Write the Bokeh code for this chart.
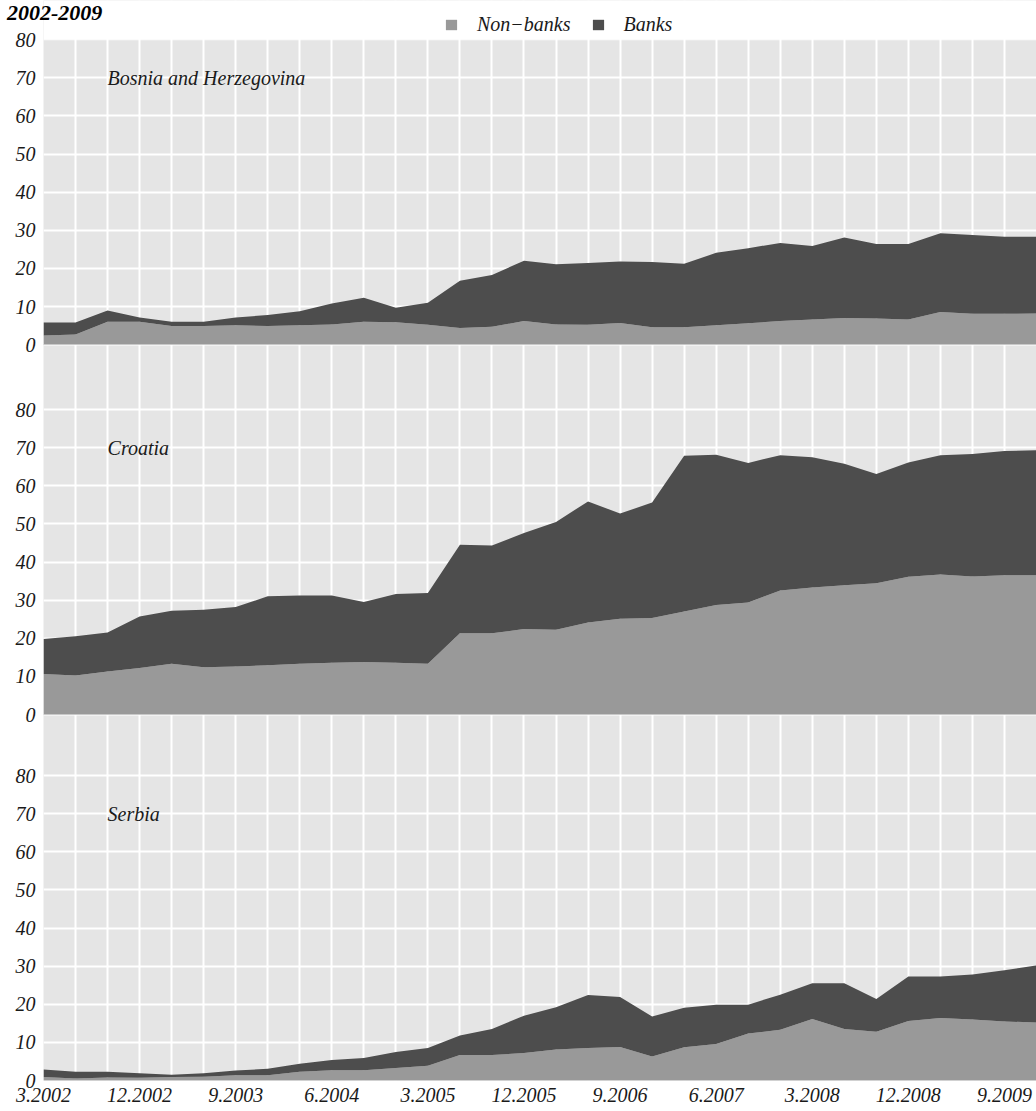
from bokeh.plotting import figure
from bokeh.layouts import column
from bokeh.models import (ColumnDataSource, FixedTicker, Legend, LegendItem, Label,
                          Range1d, Div, BoxAnnotation)
from bokeh.embed import file_html
from bokeh.resources import INLINE

# ---------------- data ----------------
quarters = ["3.2002", "6.2002", "9.2002", "12.2002",
            "3.2003", "6.2003", "9.2003", "12.2003",
            "3.2004", "6.2004", "9.2004", "12.2004",
            "3.2005", "6.2005", "9.2005", "12.2005",
            "3.2006", "6.2006", "9.2006", "12.2006",
            "3.2007", "6.2007", "9.2007", "12.2007",
            "3.2008", "6.2008", "9.2008", "12.2008",
            "3.2009", "6.2009", "9.2009", "12.2009"]

bih_nonbanks = [2.4, 2.7, 6.0, 6.0, 4.9, 4.9, 5.1, 4.9, 5.1, 5.3, 6.0, 5.9, 5.2, 4.4, 4.7, 6.2,
                5.3, 5.2, 5.7, 4.6, 4.6, 5.1, 5.6, 6.2, 6.6, 7.0, 6.9, 6.6, 8.6, 8.1, 8.1, 8.2]
bih_banks = [3.4, 3.1, 3.0, 1.1, 1.1, 1.1, 2.0, 2.9, 3.7, 5.5, 6.3, 3.8, 5.8, 12.4, 13.6, 15.8,
             15.8, 16.2, 16.1, 17.1, 16.6, 19.0, 19.7, 20.5, 19.3, 21.1, 19.5, 19.8, 20.6, 20.7, 20.2, 20.1]

hr_nonbanks = [10.6, 10.2, 11.3, 12.2, 13.3, 12.4, 12.6, 12.9, 13.3, 13.6, 13.8, 13.6, 13.3, 21.3, 21.3, 22.4,
               22.2, 24.1, 25.1, 25.3, 27.0, 28.7, 29.4, 32.5, 33.3, 33.9, 34.4, 36.1, 36.7, 36.2, 36.5, 36.5]
hr_banks = [9.2, 10.3, 10.2, 13.5, 13.9, 15.1, 15.6, 18.1, 17.9, 17.6, 15.7, 18.0, 18.6, 23.2, 23.0, 25.2,
            28.3, 31.8, 27.6, 30.3, 40.9, 39.4, 36.6, 35.5, 34.2, 31.9, 28.7, 30.0, 31.3, 32.1, 32.6, 32.8]

rs_nonbanks = [0.9, 0.5, 0.8, 0.7, 0.9, 1.0, 1.4, 1.4, 2.3, 2.7, 2.7, 3.3, 3.9, 6.7, 6.7, 7.2,
               8.1, 8.5, 8.8, 6.3, 8.7, 9.6, 12.3, 13.3, 16.1, 13.5, 12.8, 15.6, 16.4, 16.0, 15.5, 15.2]
rs_banks = [2.0, 1.8, 1.5, 1.2, 0.6, 0.9, 1.2, 1.7, 2.1, 2.7, 3.2, 4.2, 4.6, 5.1, 6.8, 9.8,
            11.1, 13.9, 13.1, 10.5, 10.4, 10.3, 7.6, 9.2, 9.4, 12.0, 8.6, 11.7, 10.9, 11.8, 13.4, 15.0]

countries = ["Bosnia and Herzegovina", "Croatia", "Serbia"]
series_names = ["Non\u2212banks", "Banks"]
title_text = "2002-2009"
y_ticks = [0, 10, 20, 30, 40, 50, 60, 70, 80]
label_every = 3

# ---------------- style / layout ----------------
FONT = "Liberation Serif"
TXT = "#1a1a1a"
C_NON = "#999999"
C_BANK = "#4d4d4d"
BG = "#e5e5e5"

FIG_H = 1111
BOTTOM = 31
FRAME_H = FIG_H - BOTTOM
PX_PER_UNIT = 305 / 80.0
TOTAL = FRAME_H / PX_PER_UNIT          # value units spanned by the whole frame

# vertical stacking of the three panels on one shared frame (offsets in value units)
panel_offsets = [193, 96, 0]          # Bosnia (top), Croatia, Serbia (bottom)
range_names = ["bih", "hr", "default"]

n = len(quarters)
xs = list(range(n))

p = figure(width=1036, height=FIG_H,
           x_range=Range1d(0, n - 1), y_range=Range1d(0, TOTAL),
           output_backend="svg", toolbar_location=None,
           min_border_left=43, min_border_right=0,
           min_border_top=0, min_border_bottom=BOTTOM,
           background_fill_color=BG, border_fill_color="white",
           outline_line_color=None)

p.extra_y_ranges = {
    "bih": Range1d(-panel_offsets[0], TOTAL - panel_offsets[0]),
    "hr": Range1d(-panel_offsets[1], TOTAL - panel_offsets[1]),
}

# ticks / grid positions on the shared axis
tick_pos, tick_lab = [], {}
for off in panel_offsets:
    for t in y_ticks:
        tick_pos.append(off + t)
        tick_lab[off + t] = str(t)
grid_pos = [t for t in tick_pos if t < panel_offsets[0] + y_ticks[-1]]

p.xgrid.ticker = FixedTicker(ticks=xs)
p.ygrid.ticker = FixedTicker(ticks=grid_pos)
for g in (p.xgrid, p.ygrid):
    g.grid_line_color = "white"
    g.grid_line_width = 2
    g.minor_grid_line_color = None

ya = p.yaxis[0]
ya.ticker = FixedTicker(ticks=tick_pos)
ya.major_label_overrides = tick_lab

xa = p.xaxis[0]
xticks = list(range(0, n, label_every))
xa.ticker = FixedTicker(ticks=xticks)
xa.major_label_overrides = {i: quarters[i] for i in xticks}

for ax, standoff in ((ya, 8), (xa, 7)):
    ax.axis_line_color = None
    ax.major_tick_line_color = None
    ax.minor_tick_line_color = None
    ax.major_tick_out = 0
    ax.major_tick_in = 0
    ax.major_label_standoff = standoff
    ax.major_label_text_font = FONT
    ax.major_label_text_font_style = "italic"
    ax.major_label_text_font_size = "20px"
    ax.major_label_text_color = TXT

data = [(bih_nonbanks, bih_banks), (hr_nonbanks, hr_banks), (rs_nonbanks, rs_banks)]
legend_renderers = None
for name, rname, (nb, bk) in zip(countries, range_names, data):
    src = ColumnDataSource(dict(x=xs, nonbanks=nb, banks=bk))
    rs = p.varea_stack(stackers=["nonbanks", "banks"], x="x", color=[C_NON, C_BANK],
                       source=src, y_range_name=rname)
    if legend_renderers is None:
        legend_renderers = rs
    p.hspan(y=[0], line_color="#c8c8c8", line_width=1, y_range_name=rname)
    p.add_layout(Label(x=2, y=70, y_range_name=rname, text=name, text_font=FONT,
                       text_font_style="italic", text_font_size="20px",
                       text_baseline="middle", text_align="left", text_color=TXT))

# white strip above the top panel (holds the legend)
p.add_layout(BoxAnnotation(bottom=y_ticks[-1], y_range_name="bih", fill_color="white",
                           fill_alpha=1, line_color="white", line_width=2))

legend_bottom_px = FRAME_H - 36
legend = Legend(items=[LegendItem(label=series_names[0], renderers=[legend_renderers[0]]),
                       LegendItem(label=series_names[1], renderers=[legend_renderers[1]])],
                orientation="horizontal", location=(401, legend_bottom_px),
                padding=0, margin=0, background_fill_alpha=0, border_line_color=None,
                glyph_width=14, glyph_height=13, label_standoff=19, spacing=20,
                label_height=16,
                label_text_font=FONT, label_text_font_style="italic",
                label_text_font_size="20px", label_text_color=TXT)
p.add_layout(legend)

# title overlaid on the top-left corner (takes no vertical space)
TITLE_H = 26
title = Div(text=title_text, width=200, height=TITLE_H, margin=(0, 0, -TITLE_H, 0),
            styles={"font-family": FONT, "font-size": "22px", "font-weight": "bold",
                    "font-style": "italic", "line-height": "26px", "padding-left": "7px",
                    "color": "black", "position": "relative", "z-index": "10"})

layout = column(title, p, spacing=0)

with open("out.html", "w") as f:
    f.write(file_html(layout, INLINE))
